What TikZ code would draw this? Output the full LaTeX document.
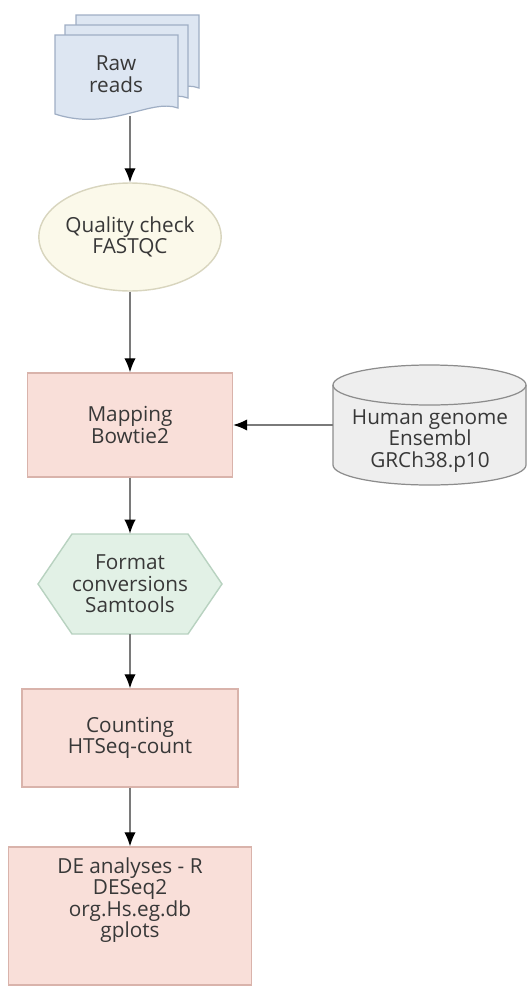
\documentclass[tikz,border=0pt]{standalone}
\usepackage{fontspec}
\setmainfont{Open Sans}
\usetikzlibrary{shapes.geometric,arrows.meta}

\definecolor{readsfill}{HTML}{DDE6F2}
\definecolor{readsline}{HTML}{9FAEC4}
\definecolor{qcfill}{HTML}{FBF9EA}
\definecolor{qcline}{HTML}{D8D5BE}
\definecolor{pinkfill}{HTML}{F9DFD9}
\definecolor{pinkline}{HTML}{D9B3AB}
\definecolor{convfill}{HTML}{E2F1E6}
\definecolor{convline}{HTML}{B8D2C0}
\definecolor{dbfill}{HTML}{EEEEEE}
\definecolor{dbline}{HTML}{8C8C8C}
\definecolor{txtgray}{HTML}{383838}
\definecolor{linegray}{HTML}{7A7A7A}

\begin{document}
\begin{tikzpicture}[x=0.02cm,y=0.02cm,
  every node/.style={font=\fontsize{11.8}{12.2}\selectfont, text=txtgray, align=center},
  flow/.style={draw=linegray, line width=0.8pt, -{Latex[length=8pt,width=6.5pt,black]}},
  page/.style={draw=readsline, fill=readsfill, line width=0.7pt},
  pinkbox/.style={draw=pinkline, fill=pinkfill, line width=0.8pt},
]
\useasboundingbox (0,0) rectangle (527,-987);

% raw reads
\foreach \dx/\dy in {21/20,10/10,0/0} {
  \begin{scope}[shift={(\dx,\dy)}]
    \filldraw[page] (55,-35) -- (178,-35) -- (178,-108)
      .. controls (150,-98) and (110,-132) .. (55,-114) -- cycle;
  \end{scope}
}
\node (raw) at (116,-74) {Raw\\reads};
\coordinate (rawbot) at (130,-116);

% quality check
\node[ellipse, draw=qcline, fill=qcfill, line width=0.8pt, inner sep=0pt,
  minimum width=2.76cm, minimum height=2.16cm] (qc) at (130,-237) {Quality check\\FASTQC};

% mapping
\node[pinkbox, minimum width=4.1cm, minimum height=2.08cm] (map) at (130,-425) {Mapping\\Bowtie2};

% genome
\filldraw[draw=dbline, fill=dbfill, line width=0.7pt] (333,-385) -- (333,-465)
  arc[start angle=180, end angle=360, x radius=96.5, y radius=20] -- (526,-385)
  arc[start angle=0, end angle=180, x radius=96.5, y radius=20] -- cycle;
\draw[dbline, line width=0.7pt] (333,-385) arc[start angle=180, end angle=360, x radius=96.5, y radius=20];
\node[minimum width=3.86cm, minimum height=2.4cm, inner sep=0pt] (genome) at (429.5,-425) {};
\node (gtxt) at (430,-441) {Human genome\\Ensembl\\GRCh38.p10};

% format conversions
\filldraw[draw=convline, fill=convfill, line width=0.8pt] (38,-584) -- (72,-534) -- (188,-534)
  -- (222,-584) -- (188,-634) -- (72,-634) -- cycle;
\node[minimum width=3.68cm, minimum height=2cm, inner sep=0pt] (fmt) at (130,-584) {Format\\conversions\\Samtools};

% counting
\node[pinkbox, minimum width=4.32cm, minimum height=1.96cm] (count) at (130,-738) {Counting\\HTSeq-count};

% DE analyses
\node[pinkbox, minimum width=4.86cm, minimum height=2.76cm] (de) at (130,-916) {};
\node (detxt) at (130,-900) {DE analyses - R\\DESeq2\\org.Hs.eg.db\\gplots};

\draw[flow] (rawbot) -- (qc);
\draw[flow] (qc) -- (map);
\draw[flow] (genome.west) -- (map.east);
\draw[flow] (map) -- (fmt);
\draw[flow] (fmt) -- (count);
\draw[flow] (count) -- (de);
\end{tikzpicture}
\end{document}
